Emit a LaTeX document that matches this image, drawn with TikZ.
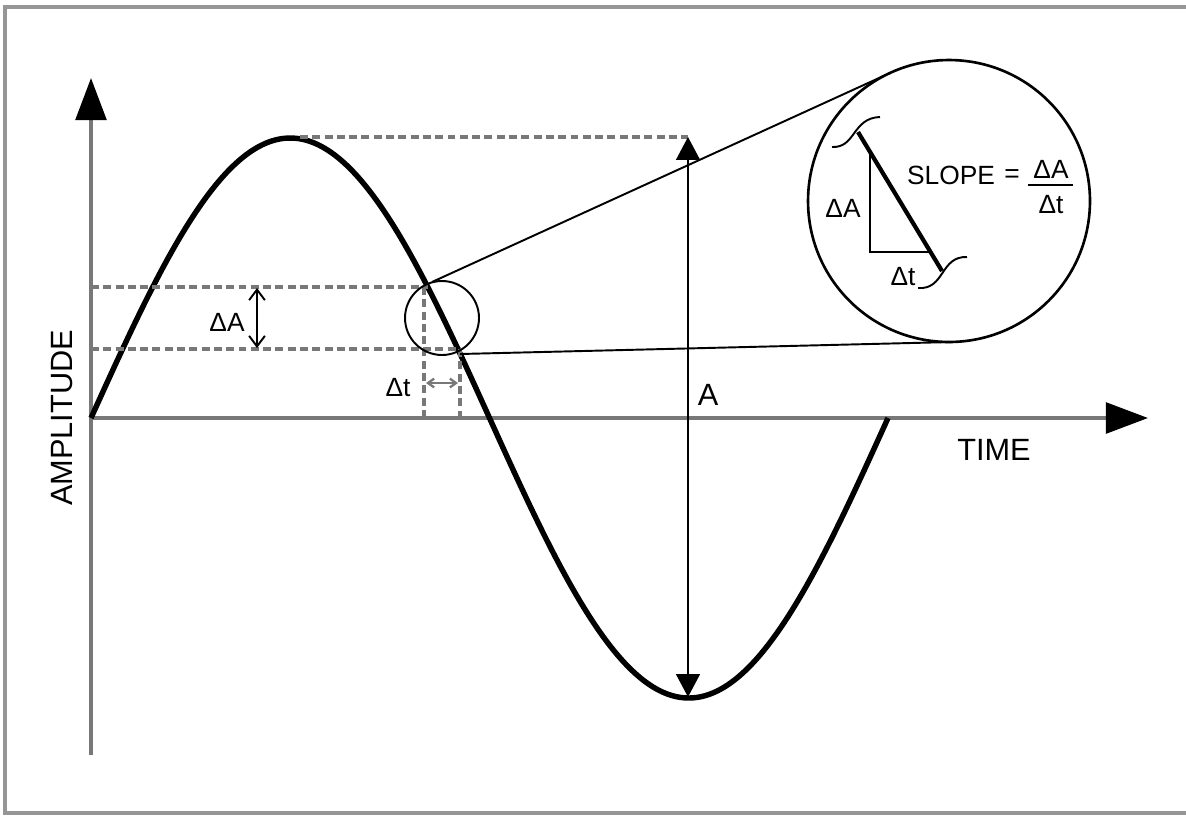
\documentclass[tikz,border=0pt]{standalone}
\usepackage{fontspec}
\setmainfont{Liberation Sans}
\usetikzlibrary{arrows.meta, positioning}
\definecolor{AxisGray}{RGB}{120,120,120}
\definecolor{FrameGray}{RGB}{150,150,150}

\begin{document}
\begin{tikzpicture}[x=0.02cm, y=-0.02cm,
    axis/.style={AxisGray, line width=2.1pt, -{Triangle[length=24pt, width=17.5pt, color=black]}},
    guide/.style={AxisGray, line width=2pt, dash pattern=on 4.5pt off 2.5pt},
    wave/.style={line width=3.1pt},
    thinline/.style={line width=1.1pt},
    lbl/.style={font=\fontsize{17.5}{20}\selectfont, inner sep=0pt},
    smalllbl/.style={font=\fontsize{15}{18}\selectfont, inner sep=0pt}]
    \useasboundingbox (0,0) rectangle (1186,816);

    % Frame
    \draw[FrameGray, line width=2pt] (1190,7) -- (5,7) -- (5,813) -- (1190,813);

    % Axes
    \coordinate (origin) at (91,418);
    \coordinate (ytop) at (91,78);
    \coordinate (ybot) at (91,755);
    \coordinate (xend) at (1148,418);
    \draw[axis] (ybot) -- (ytop);
    \draw[axis] (origin) -- (xend);
    \node[lbl, rotate=90] (amp) at (62,418) {AMPLITUDE};
    \node[lbl] (time) at (994,450) {TIME};

    % Sine wave
    \draw[wave] plot[domain=91:888, samples=160, smooth] (\x, {418-280*sin((\x-91)*0.45169)});

    % Peak to peak
    \coordinate (peak) at (300,137);
    \coordinate (ptop) at (688,137);
    \coordinate (pbot) at (688,697);
    \draw[guide] (peak) -- (ptop);
    \draw[line width=1.2pt, {Triangle[length=13pt, width=13.5pt]}-{Triangle[length=13pt, width=13.5pt]}] (ptop) -- (pbot);
    \node[lbl] (alab) at (708,395) {A};

    % Delta A and delta t
    \coordinate (ha) at (91,287);
    \coordinate (hb) at (91,349);
    \coordinate (ca) at (428,287);
    \coordinate (cb) at (460,349);
    \draw[guide] (ha) -- (ca);
    \draw[guide] (hb) -- (cb);
    \draw[guide] (424,287) -- (424,418);
    \draw[guide] (cb) -- (460,418);
    \draw[thinline, {Straight Barb[length=6pt, width=9pt]}-{Straight Barb[length=6pt, width=9pt]}] (257,288) -- (257,348);
    \node[smalllbl] (da) at (227,322) {ΔA};
    \draw[AxisGray, line width=1.3pt, {Straight Barb[length=3.5pt, width=5pt]}-{Straight Barb[length=3.5pt, width=5pt]}] (426,383) -- (458,383);
    \node[smalllbl] (dt) at (398,388) {Δt};

    % Magnifier
    \coordinate (spot) at (442,318);
    \coordinate (lens) at (949,201);
    \coordinate (spotA) at (432,282);
    \coordinate (spotB) at (460,354);
    \coordinate (lensA) at (890,73);
    \coordinate (lensB) at (952,342);
    \draw[thinline] (spot) circle[radius=0.74cm];
    \draw[line width=1.5pt] (lens) circle[radius=2.82cm];
    \draw[thinline] (spotA) -- (lensA);
    \draw[thinline] (spotB) -- (lensB);

    % Inside the magnifier
    \draw[line width=2.4pt] (858,132) -- (942,271);
    \draw[thinline] (870,152) -- (870,252) -- (931,252);
    \draw[thinline] (832,147) .. controls (856,148) and (852,118) .. (880,117);
    \draw[thinline] (918,288) .. controls (945,290) and (940,256) .. (967,257);
    \node[smalllbl] (dain) at (843,208) {ΔA};
    \node[smalllbl] (dtin) at (903,277) {Δt};
    \node[smalllbl] (slope) at (951,175) {SLOPE};
    \node[smalllbl] (eq) at (1012,176) {=};
    \node[smalllbl] (num) at (1051,169) {ΔA};
    \node[smalllbl] (den) at (1051,205) {Δt};
    \draw[line width=1.1pt] (1028,185) -- (1073,185);
\end{tikzpicture}
\end{document}
